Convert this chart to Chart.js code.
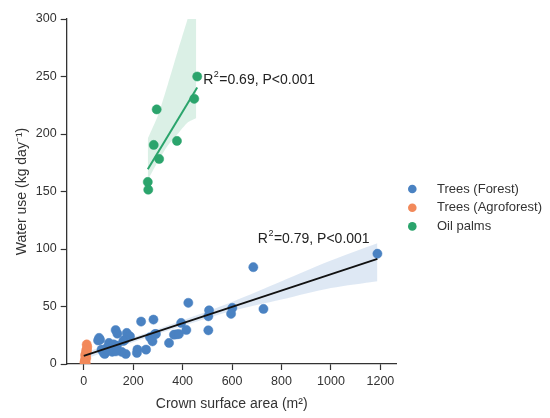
<!DOCTYPE html>
<html>
<head>
<meta charset="utf-8">
<script src="https://cdn.jsdelivr.net/npm/chart.js@4"></script>
<style>
html,body{margin:0;padding:0;background:#fff;}
#wrap{width:550px;height:418px;}
</style>
</head>
<body>
<div id="wrap"><canvas id="c" width="550" height="418"></canvas></div>
<script>
// ---- data ----
const xTicks = [0, 200, 400, 600, 800, 1000, 1200];
const yTicks = [0, 50, 100, 150, 200, 250, 300];

const forestX = [1188, 686, 727, 423, 507, 504, 504, 601, 596, 232, 282, 394, 415, 376, 365, 385, 345, 292, 268, 278, 252, 217, 215, 170, 153, 129, 136, 174, 187, 167, 62, 66, 102, 93, 115, 72, 85, 134, 121, 81, 58, 130, 160, 100, 288];
const forestY = [95.9, 84.2, 47.9, 53.2, 46.7, 41.5, 29.3, 48.8, 43.6, 36.9, 38.6, 35.7, 29.6, 25.8, 25.5, 26, 18.3, 26.1, 23.2, 19.7, 12.5, 12.5, 9.6, 8.7, 10.6, 29.5, 26.4, 27, 24.1, 21.2, 22.7, 21, 18.3, 14, 10.6, 12.5, 8.7, 16, 17, 9.6, 20.5, 11, 20, 12, 26];

const agroX = [12, 14, 13, 10, 11, 9, 8, 7, 6, 5, 4, 8, 10, 6, 3, 12];
const agroY = [17, 15, 13, 12, 10, 9, 7, 6, 4, 3, 2, 1, 5, 8, 1, 11];

const palmX = [459, 447, 295, 283, 377, 305, 259, 261];
const palmY = [250, 230.6, 221.4, 190.5, 194, 178.3, 158.3, 151.6];

// regression fits
const forestFitX = [0, 1188];
const forestFitY = [7.1, 91.5];
const palmFitX = [259, 459];
const palmFitY = [169.4, 240.5];

// confidence bands
const forestBandX = [0, 200, 400, 600, 800, 1000, 1188];
const forestBandHi = [10, 23, 38, 54, 72, 90, 105];
const forestBandLo = [4, 19, 33, 46, 56, 66, 72];
const palmBandX = [259, 300, 340, 380, 420, 455];
const palmBandHi = [196, 216, 243, 272, 300, 330];
const palmBandLo = [160, 176, 190, 200, 210, 214];

const seriesNames = ['Trees (Forest)', 'Trees (Agroforest)', 'Oil palms'];
const annotations = [
  {x: 483, y: 243.4, r2: '0.69', p: 'P<0.001'},
  {x: 704, y: 105.3, r2: '0.79', p: 'P<0.001'}
];

// ---- styles ----
const BLUE = '#4a82c2', ORANGE = '#f2895a', GREEN = '#2ba46c';
const FONT = "'Liberation Sans', Arial, sans-serif";
const AX = '#333333';

const zip = (xs, ys) => xs.map((x, i) => ({x: x, y: ys[i]}));

const datasets = [
  {type:'line', label:'fbandHi', data: zip(forestBandX, forestBandHi), borderWidth:0, pointRadius:0, fill:'+1', backgroundColor:'rgba(74,130,194,0.18)', order:10, tension:0.3},
  {type:'line', label:'fbandLo', data: zip(forestBandX, forestBandLo), borderWidth:0, pointRadius:0, fill:false, order:10, tension:0.3},
  {type:'line', label:'pbandHi', data: zip(palmBandX, palmBandHi), borderWidth:0, pointRadius:0, fill:'+1', backgroundColor:'rgba(43,164,108,0.17)', order:10, tension:0.2},
  {type:'line', label:'pbandLo', data: zip(palmBandX, palmBandLo), borderWidth:0, pointRadius:0, fill:false, order:10, tension:0.2},
  {type:'scatter', label: seriesNames[0], data: zip(forestX, forestY), backgroundColor: BLUE, borderColor: BLUE, borderWidth:0.5, pointRadius:4.6, order:5},
  {type:'scatter', label: seriesNames[1], data: zip(agroX, agroY), backgroundColor: ORANGE, borderColor: ORANGE, borderWidth:0.5, pointRadius:4.6, order:5},
  {type:'scatter', label: seriesNames[2], data: zip(palmX, palmY), backgroundColor: GREEN, borderColor: GREEN, borderWidth:0.5, pointRadius:4.6, order:5},
  {type:'line', label:'ffit', data: zip(forestFitX, forestFitY), borderColor:'#111', borderWidth:1.8, pointRadius:0, fill:false, order:1},
  {type:'line', label:'pfit', data: zip(palmFitX, palmFitY), borderColor: GREEN, borderWidth:2, pointRadius:0, fill:false, order:1}
];

const extras = {
  id: 'extras',
  afterDraw(chart) {
    const ctx = chart.ctx;
    const xs = chart.scales.x, ys = chart.scales.y;
    ctx.save();
    ctx.fillStyle = '#222';
    ctx.textBaseline = 'alphabetic';
    annotations.forEach(a => {
      let px = xs.getPixelForValue(a.x), py = ys.getPixelForValue(a.y);
      ctx.font = '14px ' + FONT;
      ctx.fillText('R', px, py);
      px += ctx.measureText('R').width;
      ctx.font = '9px ' + FONT;
      ctx.fillText('2', px + 0.5, py - 7);
      px += ctx.measureText('2').width + 1;
      ctx.font = '14px ' + FONT;
      ctx.fillText('=' + a.r2 + ', ' + a.p, px, py);
    });
    // legend
    const colors = [BLUE, ORANGE, GREEN];
    const ly = [189, 207.7, 226.4];
    ctx.font = '13px ' + FONT;
    ctx.textBaseline = 'middle';
    seriesNames.forEach((n, i) => {
      ctx.beginPath();
      ctx.fillStyle = colors[i];
      ctx.arc(412.3, ly[i], 4.3, 0, Math.PI * 2);
      ctx.fill();
      ctx.fillStyle = '#333';
      ctx.fillText(n, 437, ly[i]);
    });
    ctx.restore();
  }
};

new Chart(document.getElementById('c'), {
  data: {datasets},
  options: {
    responsive: false,
    animation: false,
    devicePixelRatio: 1,
    layout: {padding: {left: 0, top: 19, right: 153.3, bottom: 0}},
    plugins: {legend: {display: false}, tooltip: {enabled: false}},
    scales: {
      x: {
        type: 'linear', min: -69, max: 1266,
        afterBuildTicks: s => { s.ticks = xTicks.map(v => ({value: v})); },
        afterFit: s => { s.height = 54; },
        grid: {drawOnChartArea: false, drawTicks: true, tickLength: 6, color: AX, tickWidth: 1.2},
        border: {display: true, color: AX, width: 1.3},
        ticks: {color: AX, font: {family: FONT, size: 12.5}, padding: 4, maxRotation: 0, callback: v => String(v)},
        title: {display: true, text: 'Crown surface area (m²)', color: AX, font: {family: FONT, size: 14}, padding: {top: 0, bottom: 5}}
      },
      y: {
        type: 'linear', min: 0, max: 300,
        afterBuildTicks: s => { s.ticks = yTicks.map(v => ({value: v})); },
        afterFit: s => { s.width = 66.7; },
        grid: {drawOnChartArea: false, drawTicks: true, tickLength: 6, color: AX, tickWidth: 1.2},
        border: {display: true, color: AX, width: 1.3},
        ticks: {color: AX, font: {family: FONT, size: 12.5}, padding: 4, callback: v => String(v)},
        title: {display: true, text: 'Water use (kg day⁻¹)', color: AX, font: {family: FONT, size: 14}, padding: {top: 14, bottom: 0}}
      }
    }
  },
  plugins: [extras]
});
</script>
</body>
</html>
